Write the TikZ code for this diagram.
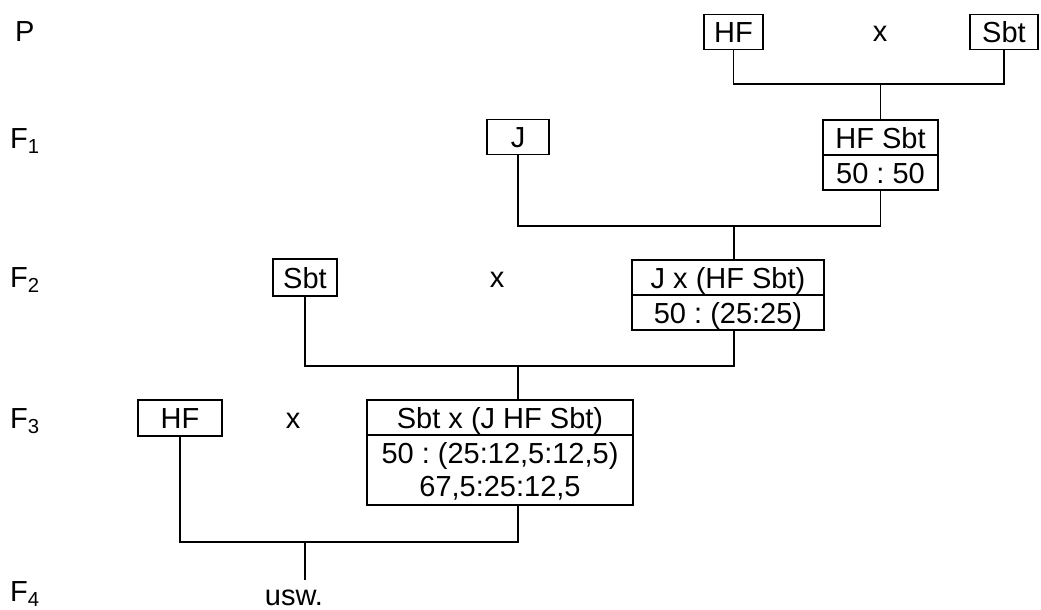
\documentclass[tikz,border=0pt]{standalone}
\usepackage{fontspec}
\setmainfont{Liberation Sans}
\usetikzlibrary{positioning}
\definecolor{ink}{HTML}{000000}
\definecolor{paper}{HTML}{FFFFFF}
\tikzset{
  genbox/.style={draw=ink,line width=1.8pt,outer sep=0pt,inner xsep=0pt,inner ysep=0pt,text height=21pt,text depth=0pt,minimum height=35pt,align=center},
  crosstxt/.style={anchor=base,inner sep=0pt},
  genlabel/.style={anchor=base west,inner sep=0pt},
  linkline/.style={draw=ink,line width=1.8pt}
}

\begin{document}
\begin{tikzpicture}[x=1pt,y=-1pt,every node/.style={font=\fontsize{29}{33}\selectfont\frenchspacing,text=ink}]
  \fill[paper] (0,0) rectangle (1041,610);
  \useasboundingbox (0,0) rectangle (1041,610);
  % generation labels
  \node[genlabel] (lblP) at (15,42) {P};
  \node[genlabel] (lblF1) at (10,148) {F\textsubscript{1}};
  \node[genlabel] (lblF2) at (10,287) {F\textsubscript{2}};
  \node[genlabel] (lblF3) at (10,428) {F\textsubscript{3}};
  \node[genlabel] (lblF4) at (10,601) {F\textsubscript{4}};
  % P
  \node[genbox,minimum width=59pt] (p1) at (733.5,32) {HF};
  \node[crosstxt] (xP) at (880,42) {x};
  \node[genbox,minimum width=68pt] (p2) at (1004,32) {Sbt};
  % F1
  \node[genbox,minimum width=62pt] (f1a) at (518,137) {J};
  \node[genbox,minimum width=115pt] (f1bTop) at (880.5,137.5) {HF Sbt};
  \node[genbox,minimum width=115pt,below=0pt of f1bTop] (f1bBot) {50 : 50};
  % F2
  \node[genbox,minimum width=64pt,minimum height=37pt] (f2a) at (305,277.5) {Sbt};
  \node[crosstxt] (xF2) at (497,287) {x};
  \node[genbox,minimum width=192pt] (f2bTop) at (728,277.5) {J x (HF Sbt)};
  \node[genbox,minimum width=192pt,below=0pt of f2bTop] (f2bBot) {50 : (25:25)};
  % F3
  \node[genbox,minimum width=84pt,minimum height=36pt] (f3a) at (180,418) {HF};
  \node[crosstxt] (xF3) at (293,428) {x};
  \node[genbox,minimum width=266pt] (f3bTop) at (500,417.5) {Sbt x (J HF Sbt)};
  \node[genbox,minimum width=266pt,minimum height=70pt,text depth=35pt,below=0pt of f3bTop] (f3bBot)
    {\begin{tabular}[t]{@{}c@{}}50 : (25:12,5:12,5)\\67,5:25:12,5\end{tabular}};
  % F4
  \node[crosstxt] (usw) at (294,605) {usw.};
  % crossing lines
  \coordinate (jP) at (880.5,84);
  \coordinate (jF1) at (734,226);
  \coordinate (jF2) at (518,366);
  \coordinate (jF3) at (305,542);
  \coordinate (uswTop) at (305,580);
  \draw[linkline] (p1.south) |- (jP) -| (p2.south);
  \draw[linkline] (jP) -- (f1bTop.north);
  \draw[linkline] (f1a.south) |- (jF1) -| (f1bBot.south);
  \draw[linkline] (jF1) -- (jF1 |- f2bTop.north);
  \draw[linkline] (f2a.south) |- (jF2) -| (jF1 |- f2bBot.south);
  \draw[linkline] (jF2) -- (jF2 |- f3bTop.north);
  \draw[linkline] (f3a.south) |- (jF3) -| (jF2 |- f3bBot.south);
  \draw[linkline] (jF3) -- (uswTop);
\end{tikzpicture}
\end{document}
